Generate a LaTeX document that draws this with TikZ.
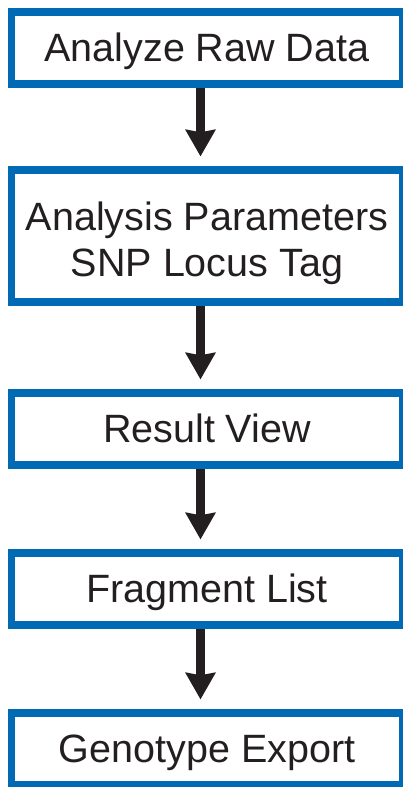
\documentclass[tikz,border=0pt]{standalone}
\usepackage{fontspec}
\setmainfont{Liberation Sans}
\usetikzlibrary{arrows.meta}
\definecolor{boxblue}{RGB}{0,106,180}
\definecolor{ink}{RGB}{35,31,32}

\begin{document}
\begin{tikzpicture}[x=1pt,y=1pt,
	stage/.style={draw=boxblue,line width=7.5pt,minimum width=391pt,minimum height=72pt,inner sep=0pt,
		text=ink,align=center,font=\fontsize{39.5}{46.7}\selectfont,text height=29pt,text depth=1.6pt},
	flow/.style={ink,line width=9pt,-{Stealth[length=27pt,width=31pt,inset=3pt,line width=0pt]}}]
	\useasboundingbox (0,0) rectangle (402,-787);
	%BOXES
	\node[stage] (raw) at (207,-48) {Analyze Raw Data};
	\node[stage,minimum height=132pt,text height=81.4pt,text depth=0pt] (param) at (207,-236) {Analysis Parameters\\SNP Locus Tag};
	\node[stage] (result) at (207,-429) {Result View};
	\node[stage] (frag) at (207,-589) {Fragment List};
	\node[stage] (geno) at (207,-749) {Genotype Export};
	%ARROWS
	\foreach \a/\b in {raw/param,param/result,result/frag,frag/geno}
		\draw[flow] ([xshift=-6.5pt]\a.south) -- ([xshift=-6.5pt,yshift=10pt]\b.north);
\end{tikzpicture}
\end{document}
